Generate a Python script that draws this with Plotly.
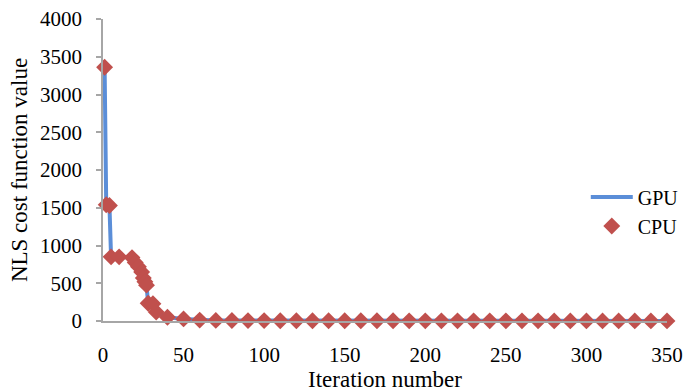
import plotly.graph_objects as go

iterations = [1, 2, 4, 5, 10, 18, 20, 22, 24, 25, 26, 27, 28, 31, 33, 40,
              50, 60, 70, 80, 90, 100, 110, 120, 130, 140, 150, 160, 170, 180,
              190, 200, 210, 220, 230, 240, 250, 260, 270, 280, 290, 300, 310,
              320, 330, 340, 350]
gpu_cost = [3360, 1540, 1530, 850, 850, 840, 775, 720, 650, 570, 520, 475, 235,
            230, 120, 50, 28, 12, 8, 6, 5, 5, 4, 4, 4, 3, 3, 3, 3, 3,
            2, 2, 2, 2, 2, 2, 2, 2, 2, 1, 1, 1, 1, 1, 1, 1, 1]
cpu_cost = list(gpu_cost)

font_family = "Liberation Serif, Times New Roman, serif"

fig = go.Figure()
fig.add_trace(go.Scatter(
    x=iterations, y=gpu_cost, mode="lines", name="GPU",
    line=dict(color="#5b8ed8", width=4), cliponaxis=False))
fig.add_trace(go.Scatter(
    x=iterations, y=cpu_cost, mode="markers", name="CPU",
    marker=dict(symbol="diamond", size=13, color="#c0504d"), cliponaxis=False))

fig.update_layout(
    width=686, height=392,
    margin=dict(l=103, r=19, t=19, b=71, autoexpand=False),
    paper_bgcolor="white", plot_bgcolor="white",
    font=dict(family=font_family, size=19, color="black"),
    showlegend=True,
    legend=dict(x=0.856, y=0.475, xanchor="left", yanchor="top",
                bgcolor="rgba(0,0,0,0)", font=dict(size=20), tracegroupgap=0,
                itemwidth=42),
    xaxis=dict(range=[0, 350], tickvals=[0, 50, 100, 150, 200, 250, 300, 350],
               showgrid=False, zeroline=False, showline=True, automargin=False,
               linecolor="#a6a6a6", linewidth=1.5, ticks="",
               tickfont=dict(size=21), ticklabelstandoff=14,
               ticklabeloverflow="allow",
               title=dict(text="Iteration number", standoff=6)),
    yaxis=dict(range=[0, 4000], tickvals=list(range(0, 4001, 500)),
               showgrid=False, zeroline=False, showline=True, automargin=False,
               linecolor="#a6a6a6", linewidth=1.5, ticks="outside",
               ticklen=5, tickcolor="#a6a6a6", tickwidth=1.5,
               tickfont=dict(size=21), ticklabelstandoff=10,
               ticklabeloverflow="allow",
               title=dict(text="NLS cost function value", standoff=6)),
)

fig.write_html("out.html",
               config={"displayModeBar": False},
               post_script="document.body.style.margin='0';"
                           "document.body.style.overflow='hidden';")
